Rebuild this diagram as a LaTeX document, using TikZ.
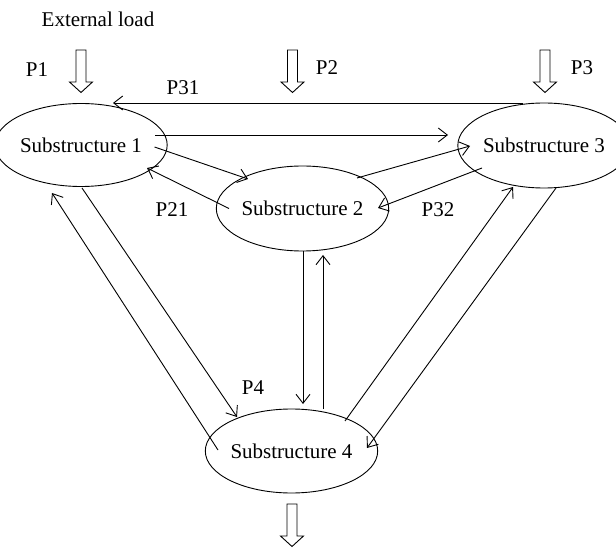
\documentclass[tikz,border=0pt]{standalone}
\usepackage{fontspec}
\setmainfont{Liberation Serif}
\usetikzlibrary{arrows.meta,shapes.geometric,calc}
\begin{document}
\begin{tikzpicture}[x=1pt,y=-1pt,
  line width=0.9pt,
  every node/.style={font=\fontsize{21}{25}\selectfont, inner sep=0pt},
  sub/.style={draw, ellipse, line width=0.9pt},
  arr/.style={-{Straight Barb[length=9pt,width=14pt,line width=0.9pt]}},
  lbl/.style={},
  hollow/.pic={\draw[line join=miter] (-5,0) -- (-5,32) -- (-11.5,32) -- (0,42.5) -- (11.5,32) -- (5,32) -- (5,0) -- cycle;}
]
\useasboundingbox (0,0) rectangle (616,548);

% substructures
\node[sub, minimum width=147pt, minimum height=83pt] (S1) at (81,145) {Substructure 1};
\node[sub, minimum width=149pt, minimum height=85pt] (S2) at (302.5,208.5) {Substructure 2};
\node[sub, minimum width=144pt, minimum height=85pt] (S3) at (544,145.5) {Substructure 3};
\node[sub, minimum width=147pt, minimum height=84pt] (S4) at (291.5,451) {Substructure 4};

% labels
\node[lbl] (lext) at (98,19) {External load};
\node[lbl] (lp1) at (37,70) {P1};
\node[lbl] (lp2) at (327,68) {P2};
\node[lbl] (lp3) at (582,68) {P3};
\node[lbl] (lp31) at (183,88) {P31};
\node[lbl] (lp21) at (172,210) {P21};
\node[lbl] (lp32) at (438,210) {P32};
\node[lbl] (lp4) at (253,388) {P4};

% external loads
\pic at (81,50) {hollow};
\pic at (292.5,50) {hollow};
\pic at (545,50) {hollow};
\pic at (292,504) {hollow};

% connectors
\draw[arr] ($(S3)+(-21,-42.5)$) -- ($(S1)+(32,-42)$);
\draw[arr] ($(S1)+(74,-10)$) -- ($(S3)+(-96,-10.5)$);
\draw[arr] ($(S1)+(73.5,2)$) -- ($(S2)+(-54.5,-29.5)$);
\draw[arr] ($(S2)+(-73.5,0)$) -- ($(S1)+(66,23)$);
\draw[arr] ($(S2)+(54.5,-30.5)$) -- ($(S3)+(-74,0.5)$);
\draw[arr] ($(S3)+(-62,22.5)$) -- ($(S2)+(75.5,-0.5)$);
\draw[arr] ($(S2)+(0.5,42.5)$) -- ($(S4)+(11.5,-47)$);
\draw[arr] ($(S4)+(31.5,-42)$) -- ($(S2)+(20.5,46.5)$);
\draw[arr] ($(S4)+(53.5,-30)$) -- ($(S3)+(-31,41.5)$);
\draw[arr] ($(S3)+(12,42.5)$) -- ($(S4)+(75.5,-3)$);
\draw[arr] ($(S1)+(1,43)$) -- ($(S4)+(-54.5,-34)$);
\draw[arr] ($(S4)+(-73.5,-1)$) -- ($(S1)+(-29,48)$);
\end{tikzpicture}
\end{document}
